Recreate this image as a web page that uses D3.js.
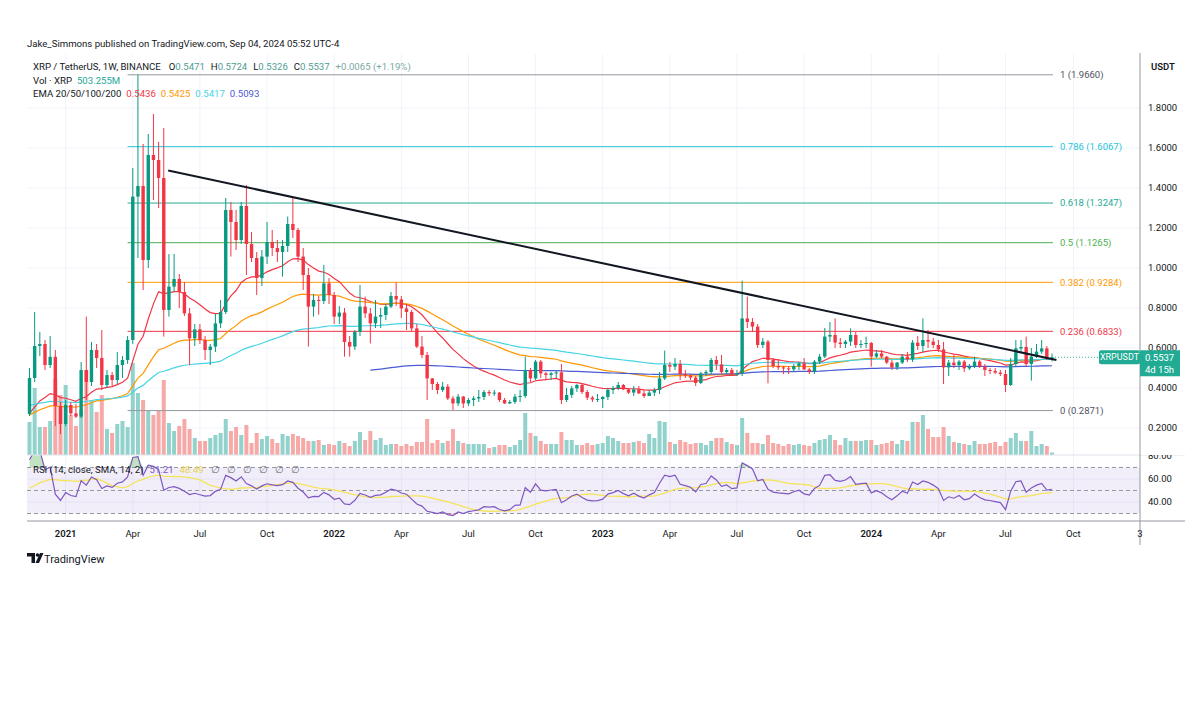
<!DOCTYPE html>
<html>
<head>
<meta charset="utf-8">
<script src="https://cdn.jsdelivr.net/npm/d3@7/dist/d3.min.js"></script>
<style>
  body { margin: 0; background: #fff; }
  text { font-family: Roboto, "Liberation Sans", Arial, sans-serif; fill: #131722; }
</style>
</head>
<body>
<svg id="chart" width="1200" height="728"></svg>
<script>
// weekly XRP/USDT candles (Binance), first bar = week of Mon 16 Nov 2020
const firstWeek = "2020-11-16"
const firstOpen = 0.27

const highs = [.50,.78,.68,.64,.66,.59,.33,.34,.33,.32,
  .53,.757,.63,.62,.69,.49,.48,.58,.56,.66,
  1.50,1.966,1.62,1.67,1.77,1.63,1.70,1.07,1.07,.97,
  .93,.80,.72,.72,.66,.62,.77,.84,1.35,1.33,
  1.29,1.33,1.415,1.18,1.08,1.09,1.23,1.19,1.14,1.14,
  1.257,1.35,1.20,1.10,1.00,.87,.86,1.015,.95,.88,
  .81,.80,.66,.69,.915,.857,.80,.84,.80,.82,
  .88,.927,.86,.82,.79,.72,.66,.58,.45,.43,
  .43,.42,.36,.37,.36,.35,.36,.39,.39,.39,
  .39,.38,.35,.34,.37,.39,.557,.50,.54,.54,
  .48,.48,.49,.52,.40,.41,.42,.42,.39,.36,
  .37,.36,.40,.41,.43,.42,.40,.41,.41,.39,
  .39,.40,.48,.587,.53,.55,.54,.49,.47,.46,
  .48,.49,.55,.56,.565,.50,.50,.49,.937,.857,
  .75,.72,.65,.64,.55,.545,.51,.51,.52,.53,
  .55,.50,.54,.57,.70,.73,.748,.65,.64,.698,
  .68,.64,.657,.63,.59,.59,.56,.54,.53,.57,
  .58,.64,.66,.748,.69,.65,.64,.63,.54,.565,
  .54,.54,.52,.557,.54,.52,.50,.50,.49,.49,
  .55,.64,.64,.657,.60,.62,.64,.61,.5724]

const lows = [.26,.43,.56,.49,.50,.21,.17,.21,.26,.25,
  .25,.34,.41,.50,.39,.40,.41,.42,.45,.52,
  .62,1.05,.89,1.00,1.34,1.30,.657,.757,.88,.80,
  .76,.515,.61,.62,.54,.515,.58,.70,.77,1.057,
  1.09,1.12,.965,1.03,.865,.91,1.02,1.06,1.03,.957,
  1.08,1.15,1.03,.89,.607,.757,.767,.82,.82,.72,
  .72,.557,.557,.59,.66,.75,.623,.70,.70,.74,
  .80,.81,.75,.69,.68,.60,.55,.34,.39,.37,
  .38,.34,.29,.31,.30,.31,.31,.33,.34,.36,
  .36,.33,.32,.32,.32,.33,.35,.43,.44,.45,
  .44,.44,.45,.32,.33,.35,.38,.37,.34,.33,
  .33,.30,.34,.37,.39,.39,.37,.36,.37,.35,
  .36,.36,.37,.44,.48,.49,.44,.45,.44,.41,
  .42,.46,.47,.49,.47,.47,.46,.46,.46,.70,
  .68,.60,.60,.423,.50,.49,.47,.47,.48,.49,
  .49,.47,.47,.52,.55,.63,.60,.60,.60,.61,
  .60,.60,.60,.507,.55,.55,.52,.49,.49,.52,
  .53,.53,.59,.58,.60,.60,.58,.42,.46,.50,
  .49,.48,.49,.50,.50,.46,.47,.47,.46,.38,
  .41,.51,.58,.51,.437,.55,.57,.54,.5326]

const closes = [.45,.61,.62,.515,.556,.31,.22,.315,.273,.257,
  .49,.43,.59,.55,.415,.465,.44,.515,.54,.64,
  1.357,1.41,1.04,1.565,1.54,1.45,.79,.907,.945,.88,
  .773,.648,.693,.64,.59,.607,.723,.78,1.29,1.23,
  1.14,1.31,1.12,1.05,.95,1.057,1.13,1.10,1.08,1.11,
  1.22,1.19,1.057,.965,.807,.84,.835,.923,.865,.757,
  .777,.63,.607,.68,.807,.773,.723,.757,.765,.807,
  .86,.843,.798,.78,.698,.607,.565,.448,.42,.39,
  .407,.348,.323,.357,.323,.34,.348,.355,.38,.373,
  .377,.34,.323,.33,.357,.36,.49,.448,.532,.473,
  .465,.473,.478,.34,.365,.398,.415,.38,.352,.343,
  .345,.355,.39,.40,.415,.393,.377,.393,.373,.36,
  .377,.39,.448,.515,.507,.52,.47,.462,.452,.425,
  .473,.48,.54,.518,.48,.49,.468,.473,.748,.73,
  .707,.615,.632,.54,.51,.503,.498,.493,.51,.523,
  .493,.482,.532,.557,.657,.665,.627,.62,.632,.665,
  .615,.62,.625,.557,.573,.557,.527,.503,.527,.557,
  .543,.627,.61,.64,.632,.615,.593,.503,.527,.515,
  .532,.498,.505,.532,.507,.49,.485,.477,.47,.415,
  .52,.598,.605,.52,.557,.582,.598,.5471,.5537]

// weekly volume, millions of XRP
const volumes = [6600,13400,5600,5600,6800,15200,12000,14000,8000,5800,
  9000,17000,11000,8600,12000,5200,4400,6200,6800,5600,
  18400,12400,11000,8800,8000,8800,15000,6400,4800,5800,
  7200,5200,3400,2800,2800,3400,4000,4400,7200,4800,
  5600,4000,6000,2400,4400,3200,3800,3200,2400,4200,
  3800,4200,3800,3400,2800,2800,3000,2000,2200,2000,
  2800,2400,1800,2800,4600,3000,4800,3000,3400,2000,
  2200,2200,1800,2200,1800,2600,2600,7200,2400,3000,
  2400,2800,5200,2800,2400,2200,2200,2200,2200,1400,
  1600,2000,2000,1600,2000,3000,8400,4400,3800,2800,
  2200,2200,2200,4600,3000,3000,2000,2000,2400,2000,
  2200,2400,3800,3400,2800,2400,2400,2600,2800,2400,
  4200,3400,6800,6600,2600,2200,3000,2600,2200,2400,
  2400,2000,2800,3400,3400,2600,2200,2000,7400,4400,
  2400,2400,2200,4000,2400,2200,1800,2200,2000,2200,
  2000,1800,2400,3000,3200,4000,3000,2000,3400,2800,
  2800,2800,3000,3000,2000,2200,2400,2800,2200,3000,
  2800,6600,6600,8000,5200,3600,3600,5600,3800,2600,
  2400,2200,2000,2800,2200,2200,2400,2600,1800,2600,
  3400,4400,2800,2800,4800,1800,2200,1800,503.255]

const priceTicks = [0.2, 0.4, 0.6, 0.8, 1.0, 1.2, 1.4, 1.6, 1.8]
const rsiTicks = [40, 60, 80]
const timeTickDates = ["2021-01-04","2021-04-05","2021-07-05","2021-10-04","2022-01-03","2022-04-04",
  "2022-07-04","2022-10-03","2023-01-02","2023-04-03","2023-07-03","2023-10-02","2024-01-01",
  "2024-04-01","2024-07-01","2024-10-01"]
const timeTickLabels = ["2021","Apr","Jul","Oct","2022","Apr","Jul","Oct","2023","Apr","Jul","Oct",
  "2024","Apr","Jul","Oct"]

const fibLevels = ["1", "0.786", "0.618", "0.5", "0.382", "0.236", "0"]
const fibPrices = [1.966, 1.6067, 1.3247, 1.1265, 0.9284, 0.6833, 0.2871]
const fibColors = ["#9598a1", "#26c6da", "#22ab94", "#4caf50", "#ff9800", "#f23645", "#9598a1"]
const fibStart = "2021-03-29"

const trendDates = ["2021-05-23", "2024-09-08"]
const trendPrices = [1.487, 0.54]

const emaPeriods = [20, 50, 100, 200]
const emaSeeds = [0.255, 0.257, 0.31, 0.487]
const emaStartDates = ["2020-11-16", "2020-11-16", "2020-11-16", "2022-02-21"]
const emaColors = ["#f23645", "#ff9800", "#45d4e4", "#4a5bd4"]
const emaValues = ["0.5436", "0.5425", "0.5417", "0.5093"]

const rsiSeed = [0.006, 0.006]   // average gain / loss before the first bar
const rsiValues = ["51.21", "48.49"]
const changeLabel = "+0.0065 (+1.19%)"

const upColor = "#089981", downColor = "#f23645"
const upVol = "#92d2cc", downVol = "#f7a9a7"

const svg = d3.select("#chart")
const parse = d3.utcParse("%Y-%m-%d")
const left = 27, right = 1140
const priceTop = 54, paneSplit = 455, rsiBottom = 521

const start = parse(firstWeek)
const weeks = closes.map((c, i) => d3.utcDay.offset(start, 7 * i))
const opens = [firstOpen, ...closes.slice(0, -1)]
const bars = weeks.map((d, i) => ({ date: d, o: opens[i], h: highs[i], l: lows[i], c: closes[i], v: volumes[i] }))

const x = d3.scaleUtc().domain([weeks[0], weeks[weeks.length - 1]]).range([29.5, 1052])
const y = d3.scaleLinear().domain([0, 2]).range([468, 68])
const yVol = d3.scaleLinear().domain([0, 20000]).range([paneSplit, paneSplit - 100])
const yRsi = d3.scaleLinear().domain([40, 60]).range([502, 479])

const defs = svg.append("defs")
defs.append("clipPath").attr("id", "clipPrice").append("rect")
  .attr("x", left).attr("y", priceTop).attr("width", right - left).attr("height", paneSplit - priceTop)
defs.append("clipPath").attr("id", "clipRsi").append("rect")
  .attr("x", left).attr("y", paneSplit).attr("width", right - left).attr("height", rsiBottom - paneSplit)

// grid
const grid = svg.append("g")
grid.selectAll(".hg").data(priceTicks).join("line")
  .attr("x1", left).attr("x2", right).attr("y1", d => y(d)).attr("y2", d => y(d))
  .attr("stroke", "#f0f3fa")
grid.selectAll(".rg").data([40, 60]).join("line")
  .attr("x1", left).attr("x2", right).attr("y1", d => yRsi(d)).attr("y2", d => yRsi(d))
  .attr("stroke", "#f0f3fa")
grid.selectAll(".vg").data(timeTickDates).join("line")
  .attr("x1", d => x(parse(d))).attr("x2", d => x(parse(d)))
  .attr("y1", priceTop).attr("y2", rsiBottom)
  .attr("stroke", "#f0f3fa")

// volume
const pricePane = svg.append("g").attr("clip-path", "url(#clipPrice)")
pricePane.selectAll(".vol").data(bars).join("rect")
  .attr("x", d => x(d.date) - 2).attr("width", 4)
  .attr("y", d => yVol(d.v)).attr("height", d => paneSplit - yVol(d.v))
  .attr("fill", d => d.c >= d.o ? upVol : downVol)

// fibonacci retracement
const fx0 = x(parse(fibStart)), fx1 = 1053
pricePane.selectAll(".fib").data(fibPrices).join("line")
  .attr("x1", fx0).attr("x2", fx1).attr("y1", d => y(d)).attr("y2", d => y(d))
  .attr("stroke", (d, i) => fibColors[i]).attr("stroke-width", 1)
svg.selectAll(".fibLabel").data(fibPrices).join("text")
  .attr("x", 1060).attr("y", d => y(d)).attr("dy", "0.35em")
  .attr("font-size", 9.5)
  .style("fill", (d, i) => fibColors[i] === "#9598a1" ? "#50535e" : fibColors[i])
  .text((d, i) => `${fibLevels[i]} (${d.toFixed(4)})`)

// EMAs
function ema(values, period, seed, from) {
  const k = 2 / (period + 1)
  let e = seed
  return values.map((v, i) => {
    if (i < from) return null
    e = v * k + e * (1 - k)
    return e
  })
}
emaPeriods.forEach((p, j) => {
  const from = d3.bisectLeft(weeks, parse(emaStartDates[j]))
  const vals = ema(closes, p, emaSeeds[j], from)
  const line = d3.line().defined(d => d[1] != null).x(d => x(d[0])).y(d => y(d[1]))
  pricePane.append("path")
    .datum(weeks.map((w, i) => [w, vals[i]]))
    .attr("d", line)
    .attr("fill", "none").attr("stroke", emaColors[j]).attr("stroke-width", 1.2)
})

// candles
const candles = pricePane.selectAll(".candle").data(bars).join("g")
candles.append("line")
  .attr("x1", d => x(d.date)).attr("x2", d => x(d.date))
  .attr("y1", d => y(d.h)).attr("y2", d => y(d.l))
  .attr("stroke", d => d.c >= d.o ? upColor : downColor).attr("stroke-width", 1)
candles.append("rect")
  .attr("x", d => x(d.date) - 1.7).attr("width", 3.4)
  .attr("y", d => y(Math.max(d.o, d.c)))
  .attr("height", d => Math.max(1, Math.abs(y(d.o) - y(d.c))))
  .attr("fill", d => d.c >= d.o ? upColor : downColor)

// trend line
pricePane.append("line")
  .attr("x1", x(parse(trendDates[0]))).attr("y1", y(trendPrices[0]))
  .attr("x2", x(parse(trendDates[1]))).attr("y2", y(trendPrices[1]))
  .attr("stroke", "#131722").attr("stroke-width", 2)

// last price line
const last = bars[bars.length - 1]
svg.append("line")
  .attr("x1", x(last.date)).attr("x2", right).attr("y1", y(last.c)).attr("y2", y(last.c))
  .attr("stroke", upColor).attr("stroke-dasharray", "1,2").attr("opacity", 0.8)

// RSI (Wilder) and its 14 SMA; history before the first bar taken as neutral
let ag = rsiSeed[0], al = rsiSeed[1]
const rsiStart = 100 - 100 / (1 + ag / al)
const rsi = closes.map((c, i) => {
  const ch = c - opens[i]
  ag = (ag * 13 + Math.max(ch, 0)) / 14
  al = (al * 13 + Math.max(-ch, 0)) / 14
  return 100 - 100 / (1 + ag / al)
})
const rsiHist = [...Array(13).fill(rsiStart), ...rsi]
const rsiMa = rsi.map((r, i) => d3.mean(rsiHist.slice(i, i + 14)))

const rsiPane = svg.append("g").attr("clip-path", "url(#clipRsi)")
rsiPane.append("rect")
  .attr("x", left).attr("width", right - left)
  .attr("y", yRsi(70)).attr("height", yRsi(30) - yRsi(70))
  .attr("fill", "rgba(126,87,194,0.1)")
rsiPane.selectAll(".lvl").data([70, 50, 30]).join("line")
  .attr("x1", left).attr("x2", right).attr("y1", d => yRsi(d)).attr("y2", d => yRsi(d))
  .attr("stroke", "#9598a1").attr("stroke-dasharray", "4,3")

const obArea = d3.area().x((d, i) => x(weeks[i])).y0(yRsi(70)).y1(d => yRsi(Math.max(d, 70)))
const osArea = d3.area().x((d, i) => x(weeks[i])).y0(yRsi(30)).y1(d => yRsi(Math.min(d, 30)))
rsiPane.append("path").datum(rsi).attr("d", obArea).attr("fill", "rgba(76,175,80,0.35)")
rsiPane.append("path").datum(rsi).attr("d", osArea).attr("fill", "rgba(242,54,69,0.3)")

const rsiLine = d3.line().x((d, i) => x(weeks[i])).y(d => yRsi(d))
rsiPane.append("path").datum(rsiMa).attr("d", rsiLine)
  .attr("fill", "none").attr("stroke", "#f5e35a").attr("stroke-width", 1.3)
rsiPane.append("path").datum(rsi).attr("d", rsiLine)
  .attr("fill", "none").attr("stroke", "#7e57c2").attr("stroke-width", 1.2)

// axes frame
svg.append("line").attr("x1", left).attr("x2", 1185).attr("y1", paneSplit).attr("y2", paneSplit)
  .attr("stroke", "#e0e3eb")
svg.append("line").attr("x1", left).attr("x2", 1185).attr("y1", rsiBottom).attr("y2", rsiBottom)
  .attr("stroke", "#9598a1")
svg.append("line").attr("x1", right).attr("x2", right).attr("y1", 53).attr("y2", 545)
  .attr("stroke", "#9598a1")

// price axis
svg.selectAll(".pt").data(priceTicks).join("text")
  .attr("x", 1148).attr("y", d => y(d)).attr("dy", "0.35em")
  .attr("font-size", 9.5).text(d => d.toFixed(4))
svg.selectAll(".rt").data(rsiTicks).join("text")
  .attr("x", 1148).attr("y", d => yRsi(d)).attr("dy", "0.35em")
  .attr("font-size", 9.5).text(d => d.toFixed(2))
svg.append("rect").attr("x", right + 1).attr("y", 440).attr("width", 50).attr("height", 15).attr("fill", "#fff")
svg.append("text").attr("x", 1151).attr("y", 70).attr("font-size", 9.5).attr("font-weight", 600).text("USDT")

// time axis
svg.selectAll(".tt").data(timeTickDates).join("text")
  .attr("x", d => x(parse(d))).attr("y", 537).attr("text-anchor", "middle")
  .attr("font-size", 9.5)
  .attr("font-weight", (d, i) => /^\d{4}$/.test(timeTickLabels[i]) ? 600 : 400)
  .text((d, i) => timeTickLabels[i])
svg.append("text").attr("x", 1140).attr("y", 537).attr("text-anchor", "middle").attr("font-size", 9.5).text("3")

// last price labels
const ly = y(last.c)
svg.append("rect").attr("x", 1099).attr("y", ly - 7).attr("width", 41).attr("height", 14).attr("rx", 2).attr("fill", "#22ab94")
svg.append("text").attr("x", 1119.5).attr("y", ly).attr("dy", "0.35em").attr("text-anchor", "middle")
  .attr("font-size", 9).style("fill", "#fff").text("XRPUSDT")
svg.append("rect").attr("x", right).attr("y", ly - 7).attr("width", 40).attr("height", 26).attr("fill", "#22ab94")
svg.append("text").attr("x", 1145).attr("y", ly).attr("dy", "0.35em").attr("font-size", 9.5)
  .style("fill", "#fff").text(last.c.toFixed(4))
svg.append("text").attr("x", 1145).attr("y", ly + 12).attr("dy", "0.35em").attr("font-size", 9.5)
  .style("fill", "#fff").text("4d 15h")

// header and legends
svg.append("text").attr("x", 27).attr("y", 47).attr("font-size", 9.6)
  .text("Jake_Simmons published on TradingView.com, Sep 04, 2024 05:52 UTC-4")

const fmt = d3.format(".4f")
const legendSize = 9.6
const l1 = svg.append("text").attr("x", 33).attr("y", 70).attr("font-size", legendSize)
l1.append("tspan").text("XRP / TetherUS, 1W, BINANCE")
;[["O", last.o], ["H", last.h], ["L", last.l], ["C", last.c]].forEach(([k, v], n) => {
  l1.append("tspan").attr("dx", n === 0 ? 8 : 6).text(k)
  l1.append("tspan").style("fill", "#4f9d93").text(fmt(v))
})
l1.append("tspan").attr("dx", 6).style("fill", "#7aa9a2").text(changeLabel)

const l2 = svg.append("text").attr("x", 33).attr("y", 83.5).attr("font-size", legendSize)
l2.append("tspan").text("Vol · XRP")
l2.append("tspan").attr("dx", 5).style("fill", "#26a69a").text(d3.format(".3f")(last.v) + "M")

const l3 = svg.append("text").attr("x", 33).attr("y", 97).attr("font-size", legendSize)
l3.append("tspan").text("EMA 20/50/100/200")
emaValues.forEach((v, j) => l3.append("tspan").attr("dx", 5).style("fill", emaColors[j]).text(v))

const l4 = svg.append("text").attr("x", 33).attr("y", 473).attr("font-size", legendSize)
l4.append("tspan").text("RSI (14, close, SMA, 14, 2)")
l4.append("tspan").attr("dx", 6).style("fill", "#7e57c2").text(rsiValues[0])
l4.append("tspan").attr("dx", 6).style("fill", "#e8d44a").text(rsiValues[1])
d3.range(6).forEach(() => l4.append("tspan").attr("dx", 7).style("fill", "#787b86").text("∅"))

// TradingView mark
const logo = svg.append("g").attr("fill", "#131722")
logo.append("path").attr("d", "M27,553 h8 v10 h-3.5 v-6.5 h-4.5 z")
logo.append("circle").attr("cx", 37.5).attr("cy", 555).attr("r", 1.8)
logo.append("path").attr("d", "M40,553 h3.5 l-4.5,10 h-3.5 z")
svg.append("text").attr("x", 44).attr("y", 562.5).attr("font-size", 11).text("TradingView")
</script>
</body>
</html>
